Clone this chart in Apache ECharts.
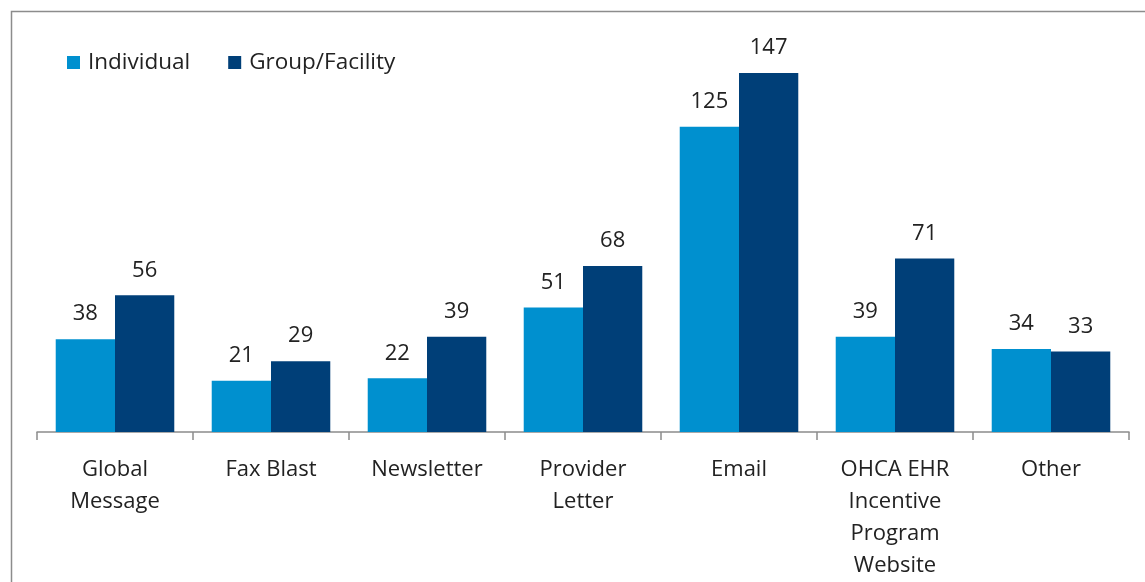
<!DOCTYPE html>
<html>
<head>
<meta charset="utf-8">
<script src="https://cdn.jsdelivr.net/npm/echarts@6/dist/echarts.min.js"></script>
<style>
  html, body { margin: 0; padding: 0; background: #fff; }
  #chart { width: 1145px; height: 582px; }
</style>
</head>
<body>
<div id="chart"></div>
<script>
// 数据
const categories = ['Global\nMessage', 'Fax Blast', 'Newsletter', 'Provider\nLetter', 'Email', 'OHCA EHR\nIncentive\nProgram\nWebsite', 'Other'];
const individual = [38, 21, 22, 51, 125, 39, 34];
const groupFacility = [56, 29, 39, 68, 147, 71, 33];

const chart = echarts.init(document.getElementById('chart'), null, {renderer: 'canvas'});
const FONT = '"Open Sans", "Noto Sans", sans-serif';

chart.setOption({
    backgroundColor: '#fff',
    animation: false,
    graphic: [
        // 外框
        {type: 'rect', left: 9, top: 9, shape: {width: 1160, height: 600}, style: {fill: 'none', stroke: '#8c8c8c', lineWidth: 1.5}, z: -1}
    ],
    legend: {
        left: 62, top: 46,
        itemWidth: 13, itemHeight: 13, itemGap: 38, itemStyle: {borderWidth: 0},
        icon: 'rect',
        textStyle: {fontFamily: FONT, fontSize: 22.5, color: '#222', padding: [0, 0, 0, 3]},
        data: ['Individual', 'Group/Facility']
    },
    grid: {left: 37, right: 16, top: 73, bottom: 147},
    xAxis: {
        type: 'category',
        data: categories,
        axisLine: {lineStyle: {color: '#8c8c8c', width: 1.5}},
        axisTick: {show: true, length: 8, lineStyle: {color: '#8c8c8c', width: 1.5}},
        axisLabel: {fontFamily: FONT, fontSize: 22, color: '#222', lineHeight: 32, margin: 22, interval: 0}
    },
    yAxis: {
        type: 'value', min: 0, max: 147,
        show: false,
        splitLine: {show: false}
    },
    series: [
        {
            name: 'Individual', type: 'bar', data: individual,
            barGap: '0%', barCategoryGap: '24%',
            itemStyle: {color: '#0090cf'},
            label: {show: true, position: 'top', distance: 14, fontFamily: FONT, fontSize: 22, color: '#222'}
        },
        {
            name: 'Group/Facility', type: 'bar', data: groupFacility,
            itemStyle: {color: '#003f78'},
            label: {show: true, position: 'top', distance: 14, fontFamily: FONT, fontSize: 22, color: '#222'}
        }
    ]
});
</script>
</body>
</html>
